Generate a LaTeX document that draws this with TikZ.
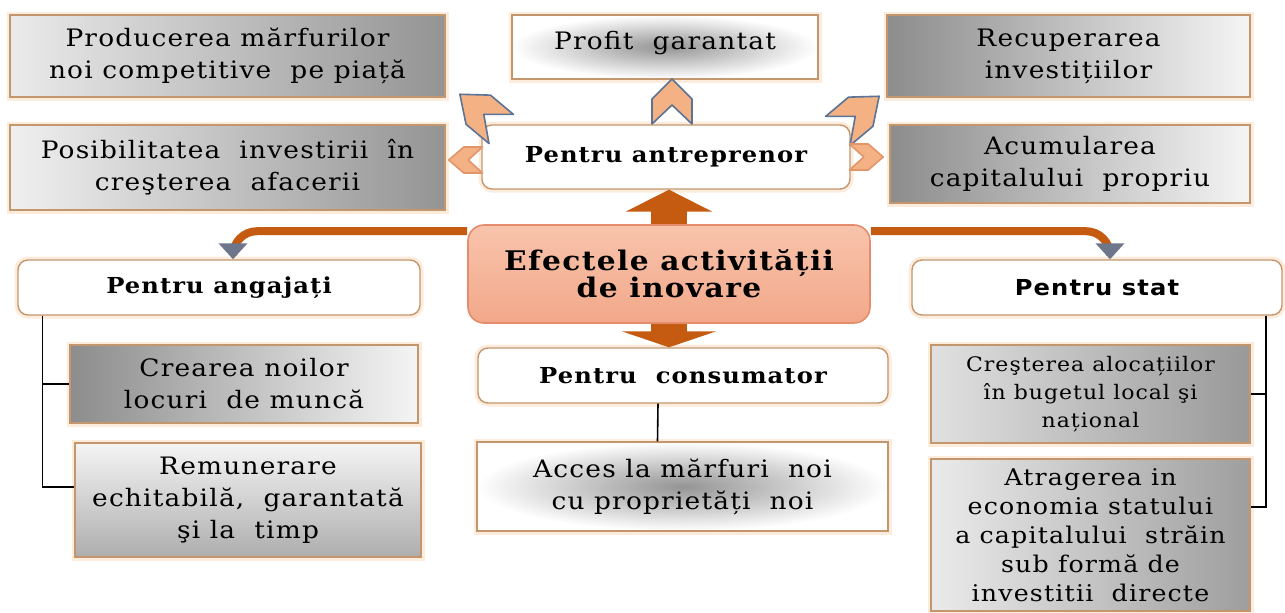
\documentclass[tikz,border=0pt]{standalone}
\usepackage{fontspec}
\setmainfont{DejaVu Serif}[FakeStretch=1.1, LetterSpace=5]
\newfontfamily\sansb{DejaVu Sans}[FakeStretch=1.1, LetterSpace=5]
\usetikzlibrary{arrows.meta}
\definecolor{boxbrd}{RGB}{196,150,110}
\definecolor{glowc}{RGB}{253,236,220}
\definecolor{arrowc}{RGB}{197,90,17}
\definecolor{headc}{RGB}{110,118,140}
\definecolor{chevfill}{RGB}{244,177,131}
\definecolor{chevbrd}{RGB}{90,115,150}
\definecolor{chevbrd2}{RGB}{225,150,105}
\definecolor{eflight}{RGB}{248,196,172}
\definecolor{efdark}{RGB}{242,168,138}
\definecolor{efbrd}{RGB}{228,140,108}
\newcommand{\chevr}[6]{\draw[chev, draw=#6, shift={(#1,#2)}, rotate=#3, xscale=#4, yscale=#5] (0,-23) -- (20,-3) -- (20,22) -- (0,3) -- (-20,22) -- (-20,-3) -- cycle;}
\begin{document}
\begin{tikzpicture}[x=0.5pt,y=-0.5pt,
  txt/.style={align=center, font=\fontsize{12}{16}\selectfont, inner sep=0pt},
  gbox/.style={txt, draw=boxbrd, line width=0.7pt, preaction={draw=glowc, line width=3.5pt}},
  wbox/.style={draw=boxbrd, line width=0.7pt, fill=white, rounded corners=5pt, align=center,
     font=\bfseries\fontsize{11}{14}\selectfont, inner sep=0pt, preaction={draw=glowc, line width=3.5pt}},
  conn/.style={line width=0.8pt, black},
  bigarr/.style={draw=arrowc, line width=18pt},
  curv/.style={draw=arrowc, line width=4pt, rounded corners=12pt},
  chev/.style={fill=chevfill, line width=0.8pt, line join=round}]
\fill[white] (0,0) rectangle (1285,612);
\useasboundingbox (0,0) rectangle (1285,612);
% top row
\node[gbox, minimum width=217.5pt, minimum height=41pt, left color=black!8, right color=black!42] (prod) at (227.5,56) {Producerea mărfurilor\\noi competitive \ pe piață};
\node[gbox, minimum width=153pt, minimum height=32pt, text depth=6.5pt, inner color=black!42, outer color=white] (prof) at (665,47) {Profit \ garantat};
\node[gbox, minimum width=181.5pt, minimum height=41pt, left color=black!45, right color=black!4] (recu) at (1068.5,56) {Recuperarea\\investițiilor};
% second row
\node[gbox, minimum width=217.5pt, minimum height=42.5pt, left color=black!6, right color=black!42] (posi) at (227.5,167.5) {Posibilitatea \ investirii \ în\\creşterea \ afacerii};
\node[wbox, minimum width=184pt, minimum height=32pt] (antr) at (666,157) {Pentru antreprenor};
\node[gbox, minimum width=180pt, minimum height=39pt, left color=black!45, right color=black!4] (acum) at (1070,164) {Acumularea\\capitalului \ propriu};
% centre
\node[draw=efbrd, line width=0.8pt, rounded corners=8pt, top color=eflight, bottom color=efdark, align=center, inner sep=0pt,
  minimum width=201pt, minimum height=49pt, font=\bfseries\fontsize{13.5}{13.5}\selectfont] (ef) at (669,274) {Efectele activității\\de inovare};
% headers
\node[wbox, minimum width=201pt, minimum height=27.5pt] (ang) at (219,287.5) {Pentru angajați};
\node[wbox, minimum width=205pt, minimum height=27.5pt] (cons) at (683,375.5) {Pentru \ consumator};
\node[wbox, minimum width=185pt, minimum height=27.5pt, font=\sansb\bfseries\fontsize{11}{14}\selectfont] (stat) at (1097,287.5) {Pentru stat};
% lower boxes
\node[gbox, minimum width=174pt, minimum height=39pt, left color=black!45, right color=black!4] (crea) at (244,384) {Crearea noilor\\locuri \ de muncă};
\node[gbox, minimum width=173pt, minimum height=57pt, top color=black!4, bottom color=black!32] (remu) at (248,500) {Remunerare\\echitabilă, \ garantată\\şi la \ timp};
\node[gbox, minimum width=205.5pt, minimum height=44.5pt, inner color=black!42, outer color=white] (acc) at (682.5,486.5) {Acces la mărfuri \ noi\\cu proprietăți \ noi};
\node[gbox, minimum width=159.5pt, minimum height=49pt, left color=black!12, right color=black!40, font=\fontsize{10}{14}\selectfont] (cres) at (1090.5,394) {Creşterea alocațiilor\\în bugetul local şi\\național};
\node[gbox, minimum width=159.5pt, minimum height=76pt, left color=black!8, right color=black!38, font=\fontsize{11.5}{14.5}\selectfont] (atr) at (1090.5,535) {Atragerea in\\economia statului\\a capitalului \ străin\\sub formă de\\investitii \ directe};
% big arrows
\draw[bigarr, -{Triangle[length=11pt,width=43pt]}] (ef.north) -- (ef.north |- antr.south);
\draw[bigarr, -{Triangle[length=8pt,width=47pt]}] (ef.south) -- (ef.south |- cons.north);
\draw[curv, -{Triangle[length=8pt,width=14pt,color=headc]}] ([yshift=-3.5pt]ef.north west) -| ([xshift=7pt]ang.north);
\draw[curv, -{Triangle[length=8pt,width=14pt,color=headc]}] ([yshift=-3.5pt]ef.north east) -| ([xshift=6.5pt]stat.north);
% chevrons
\chevr{672}{102}{0}{1}{1}{chevbrd}
\chevr{481}{112}{50}{0.95}{1.2}{chevbrd}
\chevr{858}{114}{-50}{0.95}{1.2}{chevbrd}
\chevr{466}{160}{90}{0.65}{0.75}{chevbrd2}
\chevr{866}{157}{-90}{0.65}{0.75}{chevbrd2}
% thin connectors
\draw[conn] ([xshift=12.5pt]ang.south west) |- (crea.west);
\draw[conn] ([xshift=12.5pt]ang.south west) |- ([yshift=6.5pt]remu.west);
\draw[conn] ([xshift=-8.5pt]stat.south east) |- (cres.east);
\draw[conn] ([xshift=-8.5pt]stat.south east) |- ([yshift=14pt]atr.east);
\draw[conn] ([xshift=-12.5pt]cons.south) -- ([xshift=-12.5pt]acc.north);
\end{tikzpicture}
\end{document}
